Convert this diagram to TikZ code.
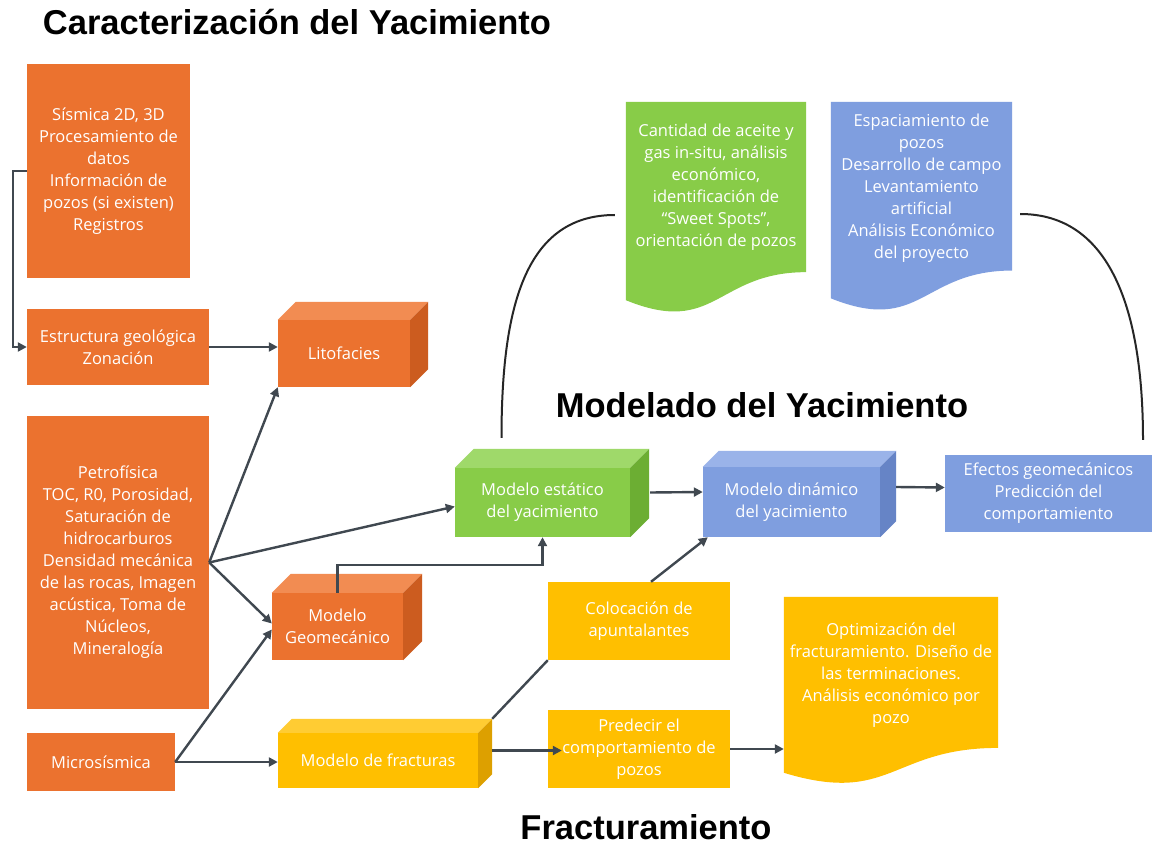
\documentclass[tikz,border=0pt]{standalone}
\usepackage{fontspec}
\setmainfont{Open Sans}
\newfontfamily\titlefont{Liberation Sans}
\usetikzlibrary{arrows.meta,calc}
\definecolor{orF}{HTML}{EB722F}
\definecolor{orT}{HTML}{F28C52}
\definecolor{orS}{HTML}{CC5C1F}
\definecolor{grF}{HTML}{88CC48}
\definecolor{grT}{HTML}{9FD96A}
\definecolor{grS}{HTML}{6CAE33}
\definecolor{blF}{HTML}{7F9EDF}
\definecolor{blT}{HTML}{9AB3E9}
\definecolor{blS}{HTML}{6684C6}
\definecolor{yeF}{HTML}{FFBF00}
\definecolor{yeT}{HTML}{FFCC33}
\definecolor{yeS}{HTML}{DDA000}
\definecolor{conncol}{HTML}{404850}
\tikzset{
  boxtext/.style={text=white, align=center, font=\fontsize{16.5}{22}\selectfont},
  obox/.style={boxtext, fill=orF, inner sep=0pt},
  gbox/.style={boxtext, fill=grF, inner sep=0pt},
  bbox/.style={boxtext, fill=blF, inner sep=0pt},
  ybox/.style={boxtext, fill=yeF, inner sep=0pt},
  docframe/.style={inner sep=0pt},
  conn/.style={draw=conncol, line width=2.4pt, -{Triangle[length=9pt,width=9pt]}},
  plainconn/.style={draw=conncol, line width=2.4pt},
  arcline/.style={draw=black!85, line width=2pt},
  title/.style={font=\titlefont\bfseries\fontsize{34.5}{38}\selectfont, text=black},
}
\newcommand{\cubefaces}[4]{%
  \fill[#3] (#1.north west) -- ++(#2,-#2) -- ([shift={(#2,-#2)}]#1.north east) -- (#1.north east) -- cycle;
  \fill[#4] (#1.north east) -- ++(#2,-#2) -- ([shift={(#2,-#2)}]#1.south east) -- (#1.south east) -- cycle;}
\newcommand{\docpath}[2]{%
  \fill[#2] (#1.north west) -- (#1.north east) -- ($(#1.north east)!0.802!(#1.south east)$)
    .. controls ($(#1.north)!0.802!(#1.south)$) and ($(#1.north)!1.107!(#1.south)$) ..
    ($(#1.north west)!0.934!(#1.south west)$) -- cycle;}
\begin{document}
\begin{tikzpicture}[x=1pt,y=-1pt]
\useasboundingbox[fill=white] (0,0) rectangle (1162,845);

% titles
\node[title] (t1) at (297,22) {Caracterización del Yacimiento};
\node[title] (t2) at (762,405) {Modelado del Yacimiento};
\node[title] (t3) at (646,827) {Fracturamiento};

% left column
\node[obox, minimum width=163pt, minimum height=214pt] (sis) at (108.5,171)
  {Sísmica 2D, 3D\\Procesamiento de\\datos\\Información de\\pozos (si existen)\\Registros};
\node[obox, minimum width=182pt, minimum height=76pt] (est) at (118,347)
  {Estructura geológica\\Zonación};
\node[obox, minimum width=182pt, minimum height=293pt] (pet) at (118,562.5)
  {Petrofísica\\TOC, R0, Porosidad,\\Saturación de\\hidrocarburos\\Densidad mecánica\\de las rocas, Imagen\\acústica, Toma de\\Núcleos,\\Mineralogía};
\node[obox, minimum width=148pt, minimum height=58pt] (mic) at (101,762)
  {Microsísmica};

% cubes
\node[obox, minimum width=132pt, minimum height=67pt] (lit) at (344,353.5) {Litofacies};
\cubefaces{lit}{18}{orT}{orS}
\node[obox, minimum width=131pt, minimum height=67pt] (geo) at (337.5,626.5) {Modelo\\Geomecánico};
\cubefaces{geo}{19}{orT}{orS}
\node[ybox, minimum width=200pt, minimum height=55pt] (frac) at (378,760.5) {Modelo de fracturas};
\cubefaces{frac}{14}{yeT}{yeS}
\node[gbox, minimum width=175pt, minimum height=69pt] (sta) at (542.5,502.5) {Modelo estático\\del yacimiento};
\cubefaces{sta}{19}{grT}{grS}
\node[bbox, minimum width=177pt, minimum height=70pt] (dyn) at (791.5,502) {Modelo dinámico\\del yacimiento};
\cubefaces{dyn}{16}{blT}{blS}

% flat boxes
\node[bbox, minimum width=207pt, minimum height=77pt] (efe) at (1048.5,493.5)
  {Efectos geomecánicos\\Predicción del\\comportamiento};
\node[ybox, minimum width=182pt, minimum height=78pt] (col) at (639,621)
  {Colocación de\\apuntalantes};
\node[ybox, minimum width=182pt, minimum height=78pt] (pre) at (639,749)
  {Predecir el\\comportamiento de\\pozos};

% documents
\node[docframe, minimum width=180pt, minimum height=212pt] (gdoc) at (716,208) {};
\docpath{gdoc}{grF}
\node[boxtext] (gdoctext) at (716,187)
  {Cantidad de aceite y\\gas in-situ, análisis\\económico,\\identificación de\\“Sweet Spots”,\\orientación de pozos};
\node[docframe, minimum width=181pt, minimum height=210pt] (bdoc) at (921.5,207) {};
\docpath{bdoc}{blF}
\node[boxtext] (bdoctext) at (921.5,188)
  {Espaciamiento de\\pozos\\Desarrollo de campo\\Levantamiento\\artificial\\Análisis Económico\\del proyecto};
\node[docframe, minimum width=214pt, minimum height=188pt] (odoc) at (891,691) {};
\docpath{odoc}{yeF}
\node[boxtext] (odoctext) at (891,675)
  {Optimización del\\fracturamiento. Diseño de\\las terminaciones.\\Análisis económico por\\pozo};

% connectors
\draw[conn] (sis.west) -- ++(-14,0) |- (est.west);
\draw[conn] (est.east) -- (est.east -| lit.west);
\draw[conn] (pet.east) -- (lit.south west);
\draw[conn] (pet.east) -- ([yshift=-4pt]sta.west);
\draw[conn] (pet.east) -- ([yshift=3pt]geo.west);
\draw[conn] (mic.east) -- ([yshift=-3pt]geo.west);
\draw[conn] (mic.east) -- (mic.east -| frac.west);
\draw[conn] (geo.north) -- ++(0,-28) -| (sta.south);
\draw[conn] ([shift={(20,-10)}]sta.east) -- ([shift={(0,-10)}]dyn.west);
\draw[conn] ([shift={(16,-15)}]dyn.east) -- ([shift={(0,-6)}]efe.west);
\draw[plainconn] ([shift={(14,-14)}]frac.north east) -- (col.south west);
\draw[conn] ([xshift=12pt]col.north) -- ([xshift=5pt]dyn.south west);
\draw[conn] ([shift={(14,-10)}]frac.east) -- ([shift={(14,-10)}]frac.east -| pre.west);
\draw[conn] (pre.east) -- (pre.east -| odoc.west);

% arcs
\draw[arcline] ([shift={(-41,-30)}]sta.north) .. controls +(0,-130) and +(-90,0) .. ([shift={(-11,7)}]gdoc.west);
\draw[arcline] ([shift={(8,7)}]bdoc.east) .. controls +(90,0) and +(0,-130) .. ([shift={(94.5,-15)}]efe.north);
\end{tikzpicture}
\end{document}
